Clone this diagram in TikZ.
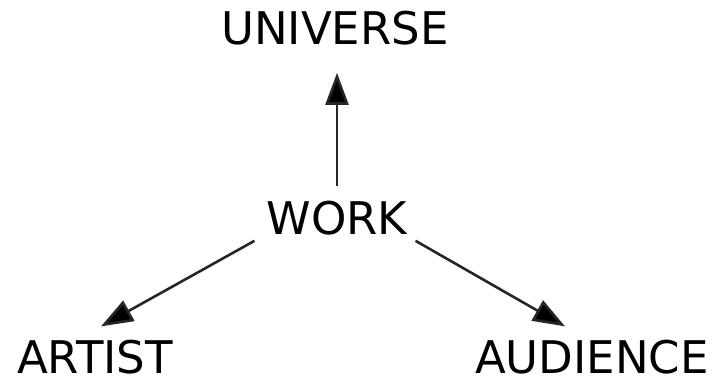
\documentclass[tikz,border=0pt]{standalone}
\usepackage{fontspec}
\setmainfont{DejaVu Sans}
\usetikzlibrary{arrows.meta}
\begin{document}
\begin{tikzpicture}[x=1pt,y=1pt,
  lbl/.style={inner sep=0pt,anchor=base,font=\fontsize{45}{50}\selectfont},
  arr/.style={line width=2.6pt,draw=black!85,-{Triangle[length=32pt,width=23pt,fill=black]}}]
\useasboundingbox (0,0) rectangle (715,377);
\node[lbl] (universe) at (335,332) {UNIVERSE};
\node[lbl] (work) at (337,142) {WORK};
\node[lbl] (artist) at (95,3) {ARTIST};
\node[lbl] (audience) at (592,3) {AUDIENCE};
\draw[arr] ([yshift=15pt]work.north) -- ([yshift=-27pt]work.north |- universe.south);
\draw[arr] ([xshift=-12pt,yshift=-5pt]work.south west) -- ([xshift=-72pt,yshift=14pt]artist.north east);
\draw[arr] ([xshift=8pt,yshift=-5pt]work.south east) -- ([xshift=90pt,yshift=14pt]audience.north west);
\end{tikzpicture}
\end{document}
